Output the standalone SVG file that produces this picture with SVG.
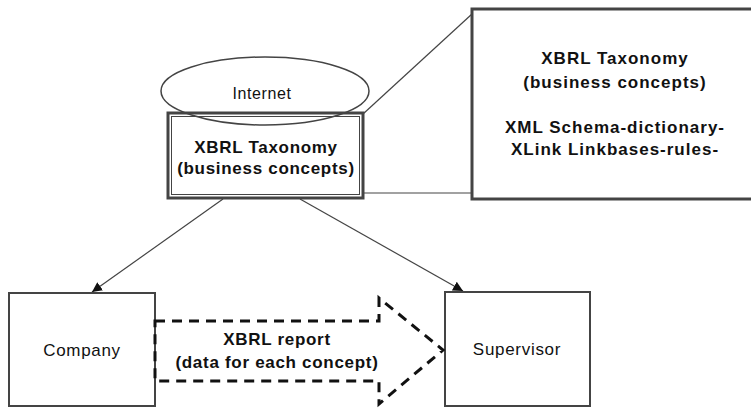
<svg xmlns="http://www.w3.org/2000/svg" width="751" height="408" viewBox="0 0 751 408">
<style>
text{font-family:"Liberation Sans",Arial,sans-serif;fill:#111;text-anchor:middle;dominant-baseline:central}
.b{font-weight:bold;font-size:17px;letter-spacing:0.7px}
.bw{font-weight:bold;font-size:17px;letter-spacing:1px}
.r{font-size:17px;letter-spacing:0.7px}
.box{fill:#fff;stroke:#444;stroke-width:2}
.ln{stroke:#444;stroke-width:1.2;fill:none}
.dash{stroke:#111;stroke-width:3;fill:none;stroke-dasharray:10 7}
</style>
<defs>
<marker id="ah" viewBox="0 0 10 10" refX="10" refY="5" markerWidth="10" markerHeight="10" markerUnits="userSpaceOnUse" orient="auto">
<path d="M0,0 L10,5 L0,10 z" fill="#111"/>
</marker>
</defs>
<g id="detail">
<rect x="472" y="9" width="290" height="190" fill="#fff" stroke="#444" stroke-width="3"/>
<text class="bw" x="615" y="58">XBRL Taxonomy</text>
<text class="bw" x="615" y="82">(business concepts)</text>
<text class="bw" x="615" y="127">XML Schema-dictionary-</text>
<text class="bw" x="615" y="149">XLink Linkbases-rules-</text>
</g>
<g id="taxonomy">
<rect x="168" y="113" width="195" height="85" fill="#fff" stroke="#444" stroke-width="3"/>
<rect x="171.5" y="116.5" width="188" height="78" fill="none" stroke="#444" stroke-width="1"/>
<text class="b" x="266" y="147">XBRL Taxonomy</text>
<text class="b" x="266" y="168">(business concepts)</text>
</g>
<g id="internet">
<ellipse cx="265" cy="91" rx="104" ry="34" fill="none" stroke="#444" stroke-width="1.5"/>
<text x="262" y="93" font-size="16" letter-spacing="0.6">Internet</text>
</g>
<g id="company">
<rect class="box" x="9" y="293" width="146" height="113"/>
<text class="r" x="82" y="350">Company</text>
</g>
<g id="supervisor">
<rect class="box" x="445" y="292" width="145" height="114"/>
<text class="r" x="517" y="349">Supervisor</text>
</g>
<g id="connectors">
<line class="ln" x1="363" y1="114" x2="472" y2="14"/>
<line class="ln" x1="363" y1="193" x2="472" y2="193"/>
<line class="ln" x1="223" y1="199" x2="92" y2="292" marker-end="url(#ah)"/>
<line class="ln" x1="300" y1="199" x2="463" y2="291" marker-end="url(#ah)"/>
<path class="dash" d="M155,321 H379 V298 L443,350 L379,404 V381 H155 Z"/>
<text class="b" x="277" y="339">XBRL report</text>
<text class="b" x="277" y="362">(data for each concept)</text>
</g>
</svg>
